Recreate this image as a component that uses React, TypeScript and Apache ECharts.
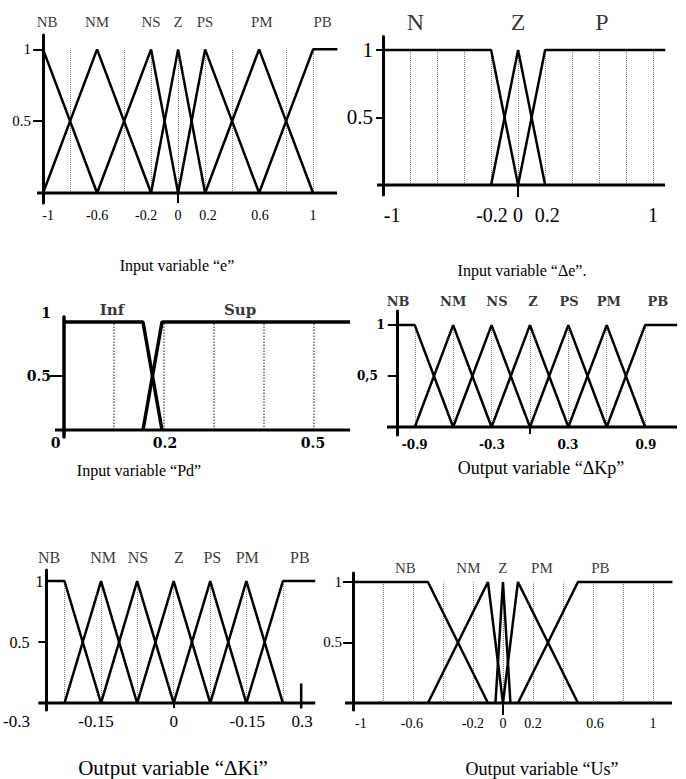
import React, { useEffect, useRef } from "react";
import * as echarts from "echarts";

const TIMES = "Liberation Serif, Times New Roman, serif";
const BOOK = "DejaVu Serif, serif";

// ---------- Panel 1: Input variable "e"
const eNames = ["NB", "NM", "NS", "Z", "PS", "PM", "PB"];
const eCurves = [
  [[-1, 1], [-0.6, 0]],
  [[-1, 0], [-0.6, 1], [-0.2, 0]],
  [[-0.6, 0], [-0.2, 1], [0, 0]],
  [[-0.2, 0], [0, 1], [0.2, 0]],
  [[0, 0], [0.2, 1], [0.6, 0]],
  [[0.2, 0], [0.6, 1], [1, 0]],
  [[0.6, 0], [1, 1], [1.18, 1]],
];
const eNameAt = [-0.97, -0.6, -0.2, 0, 0.2, 0.62, 1.07];
const eGuides = [-0.8, -0.4, -0.2, 0, 0.2, 0.4, 0.8, 1];
const eTickText = ["-1", "-0.6", "-0.2", "0", "0.2", "0.6", "1"];
const eTickAt = [-0.963, -0.6, -0.237, 0, 0.222, 0.607, 1];

// ---------- Panel 2: Input variable "Δe"
const deNames = ["N", "Z", "P"];
const deCurves = [
  [[-1, 1], [-0.2, 1], [0, 0]],
  [[-0.2, 0], [0, 1], [0.2, 0]],
  [[0, 0], [0.2, 1], [1.09, 1]],
];
const deNameAt = [-0.76, 0, 0.62];
const deGuides = [-0.8, -0.6, -0.4, -0.2, 0, 0.2, 0.4, 0.6, 0.8, 1];
const deTickText = ["-1", "-0.2", "0", "0.2", "1"];
const deTickAt = [-0.933, -0.193, 0, 0.215, 1];

// ---------- Panel 3: Input variable "Pd"
const pdNames = ["Inf", "Sup"];
const pdCurves = [
  [[0, 1], [0.158, 1], [0.196, 0]],
  [[0.158, 0], [0.196, 1], [0.572, 1]],
];
const pdNameAt = [0.096, 0.352];
const pdGuides = [0.1, 0.2, 0.3, 0.4, 0.5];
const pdTickText = ["0", "0.2", "0.5"];
const pdTickAt = [-0.017, 0.202, 0.498];

// ---------- Panel 4: Output variable "ΔKp"
const kpNames = ["NB", "NM", "NS", "Z", "PS", "PM", "PB"];
const kpCurves = [
  [[-1.04, 1], [-0.9, 1], [-0.6, 0]],
  [[-0.9, 0], [-0.6, 1], [-0.3, 0]],
  [[-0.6, 0], [-0.3, 1], [0, 0]],
  [[-0.3, 0], [0, 1], [0.3, 0]],
  [[0, 0], [0.3, 1], [0.6, 0]],
  [[0.3, 0], [0.6, 1], [0.9, 0]],
  [[0.6, 0], [0.9, 1], [1.15, 1]],
];
const kpNameAt = [-1.03, -0.6, -0.258, 0.023, 0.305, 0.617, 1.0];
const kpGuides = [-0.9, -0.6, -0.3, 0, 0.3, 0.6, 0.9];
const kpTickText = ["-0.9", "-0.3", "0.3", "0.9"];
const kpTickAt = [-0.9, -0.297, 0.297, 0.906];

// ---------- Panel 5: Output variable "ΔKi"
const kiNames = ["NB", "NM", "NS", "Z", "PS", "PM", "PB"];
const kiCurves = [
  [[-0.3, 1], [-0.257, 1], [-0.171, 0]],
  [[-0.257, 0], [-0.171, 1], [-0.086, 0]],
  [[-0.171, 0], [-0.086, 1], [0, 0]],
  [[-0.086, 0], [0, 1], [0.086, 0]],
  [[0, 0], [0.086, 1], [0.171, 0]],
  [[0.086, 0], [0.171, 1], [0.257, 0]],
  [[0.171, 0], [0.257, 1], [0.333, 1]],
];
const kiNameAt = [-0.293, -0.166, -0.084, 0.012, 0.091, 0.173, 0.297];
const kiGuides = [-0.257, -0.171, -0.086, 0, 0.086, 0.171, 0.257];
const kiTickText = ["-0.3", "-0.15", "0", "-0.15", "0.3"];
const kiTickAt = [-0.37, -0.183, 0, 0.173, 0.302];
const kiStrayTick = [[0.3, -0.045], [0.3, 0.16]];

// ---------- Panel 6: Output variable "Us"
const usNames = ["NB", "NM", "Z", "PM", "PB"];
const usCurves = [
  [[-1, 1], [-0.5, 1], [-0.1, 0]],
  [[-0.5, 0], [-0.1, 1], [0, 0]],
  [[-0.05, 0], [0, 1], [0.05, 0]],
  [[0, 0], [0.1, 1], [0.5, 0]],
  [[0.1, 0], [0.5, 1], [1.13, 1]],
];
const usNameAt = [-0.65, -0.23, 0, 0.26, 0.65];
const usGuides = [-0.8, -0.6, -0.4, -0.2, 0, 0.2, 0.4, 0.6, 0.8, 1];
const usTickText = ["-1", "-0.6", "-0.2", "0", "0.2", "0.6", "1"];
const usTickAt = [-0.947, -0.607, -0.2, 0, 0.2, 0.613, 1.0];

const yLevels = [0.5, 1];
const yTextDot = ["0.5", "1"];
const yTextComma = ["0,5", "1"];

type Font = { family: string; size: number; weight: string };
type Panel = {
  names: string[];
  curves: number[][][];
  nameAt: number[];
  nameY: number;
  guides: number[];
  xText: string[];
  xAt: number[];
  yText: string[];
  extra?: number[][];
  caption: string;
  L: {
    left: number; top: number; width: number; height: number;
    xmin: number; xmax: number; ymin: number; ymax: number; x0: number;
    xLine: [number, number];
    lw: number; axisW: number; yAxisW: number;
    nameFont: Font; xFont: Font; yFont: Font;
    xMargin: number; yMargin: number;
    xTicks: number[]; xTickLen: number; yTicks: number[]; yTickLen: number;
    yPad: number[][];
    guideColor: string; guideW: number;
    capX: number; capY: number; capSize: number;
  };
};

const T = (size: number): Font => ({ family: TIMES, size, weight: "normal" });
const B = (size: number): Font => ({ family: BOOK, size, weight: "bold" });
const NOPAD = [[0, 0, 0, 0], [0, 0, 0, 0]];

const panels: Panel[] = [
  {
    names: eNames, curves: eCurves, nameAt: eNameAt, nameY: 1.19, guides: eGuides,
    xText: eTickText, xAt: eTickAt, yText: yTextDot, caption: "Input variable \u201ce\u201d",
    L: {
      left: 37, top: 35, width: 300, height: 168, xmin: -1.045, xmax: 1.177, ymin: -0.07, ymax: 1.1, x0: -1,
      xLine: [-1.045, 1.177], lw: 2.5, axisW: 3, yAxisW: 3,
      nameFont: T(15), xFont: T(14), yFont: T(15), xMargin: 5, yMargin: 12,
      xTicks: [0], xTickLen: 10, yTicks: [0.5, 1], yTickLen: 10, yPad: NOPAD,
      guideColor: "#777", guideW: 1, capX: 177, capY: 265, capSize: 16,
    },
  },
  {
    names: deNames, curves: deCurves, nameAt: deNameAt, nameY: 1.207, guides: deGuides,
    xText: deTickText, xAt: deTickAt, yText: yTextDot, caption: "Input variable \u201c\u0394e\u201d.",
    L: {
      left: 377, top: 36.5, width: 288, height: 158.6, xmin: -1.045, xmax: 1.088, ymin: -0.075, ymax: 1.1, x0: -1,
      xLine: [-1.045, 1.088], lw: 2.5, axisW: 3, yAxisW: 3,
      nameFont: T(24), xFont: T(20), yFont: T(21), xMargin: 10, yMargin: 10,
      xTicks: [0], xTickLen: 12, yTicks: [0.5, 1], yTickLen: 7, yPad: NOPAD,
      guideColor: "#777", guideW: 1, capX: 522, capY: 270, capSize: 16,
    },
  },
  {
    names: pdNames, curves: pdCurves, nameAt: pdNameAt, nameY: 1.11, guides: pdGuides,
    xText: pdTickText, xAt: pdTickAt, yText: yTextDot, caption: "Input variable \u201cPd\u201d",
    L: {
      left: 55, top: 317, width: 295, height: 120, xmin: -0.018, xmax: 0.572, ymin: -0.065, ymax: 1.046, x0: 0,
      xLine: [-0.018, 0.572], lw: 3.5, axisW: 3, yAxisW: 3.5,
      nameFont: B(15), xFont: B(14), yFont: B(14), xMargin: -1, yMargin: 13,
      xTicks: [], xTickLen: 0, yTicks: [0.5], yTickLen: 14, yPad: [[0, 0, 0, 0], [0, 0, 18, 0]],
      guideColor: "#666", guideW: 1.5, capX: 139, capY: 470, capSize: 16,
    },
  },
  {
    names: kpNames, curves: kpCurves, nameAt: kpNameAt, nameY: 1.235, guides: kpGuides,
    xText: kpTickText, xAt: kpTickAt, yText: yTextComma, caption: "Output variable \u201c\u0394Kp\u201d",
    L: {
      left: 387, top: 311, width: 290, height: 124, xmin: -1.117, xmax: 1.149, ymin: -0.078, ymax: 1.138, x0: -1.04,
      xLine: [-1.117, 1.149], lw: 2.5, axisW: 3, yAxisW: 3,
      nameFont: B(13), xFont: B(12), yFont: B(12), xMargin: 4, yMargin: 12,
      xTicks: [0], xTickLen: 7, yTicks: [0.5, 1], yTickLen: 9, yPad: [[0, 7, 0, 0], [0, 0, 0, 0]],
      guideColor: "#888", guideW: 1, capX: 541, capY: 468, capSize: 18,
    },
  },
  {
    names: kiNames, curves: kiCurves, nameAt: kiNameAt, nameY: 1.19, guides: kiGuides,
    xText: kiTickText, xAt: kiTickAt, yText: yTextDot, extra: kiStrayTick, caption: "Output variable \u201c\u0394Ki\u201d",
    L: {
      left: 6.5, top: 570, width: 308.7, height: 140, xmin: -0.39, xmax: 0.333, ymin: -0.057, ymax: 1.0905, x0: -0.3,
      xLine: [-0.3185, 0.333], lw: 2.5, axisW: 3, yAxisW: 3,
      nameFont: T(16), xFont: T(17), yFont: T(16), xMargin: 3, yMargin: 3,
      xTicks: [0], xTickLen: 5, yTicks: [0.5], yTickLen: 8, yPad: [[0, 14, 0, 0], [0, 0, 0, 0]],
      guideColor: "#888", guideW: 1, capX: 173, capY: 768, capSize: 21,
    },
  },
  {
    names: usNames, curves: usCurves, nameAt: usNameAt, nameY: 1.115, guides: usGuides,
    xText: usTickText, xAt: usTickAt, yText: yTextDot, caption: "Output variable \u201cUs\u201d",
    L: {
      left: 345, top: 573, width: 327, height: 137, xmin: -1.053, xmax: 1.127, ymin: -0.058, ymax: 1.074, x0: -1,
      xLine: [-1.053, 1.127], lw: 2.5, axisW: 3, yAxisW: 3,
      nameFont: T(15), xFont: T(14), yFont: T(15), xMargin: 6, yMargin: 11,
      xTicks: [0], xTickLen: 12, yTicks: [0.5, 1], yTickLen: 10, yPad: NOPAD,
      guideColor: "#777", guideW: 1, capX: 542, capY: 769, capSize: 18,
    },
  },
];

function findIdx(arr: number[], v: number) {
  return arr.findIndex((a) => Math.abs(a - v) < 1e-9);
}

function buildOption() {
  const grid: any[] = [];
  const xAxis: any[] = [];
  const yAxis: any[] = [];
  const series: any[] = [];
  const graphic: any[] = [];
  panels.forEach((p, i) => {
    const L = p.L;
    grid.push({ left: L.left, top: L.top, width: L.width, height: L.height, containLabel: false });
    xAxis.push({
      type: "value", gridIndex: i, min: L.xmin, max: L.xmax,
      axisLine: { show: false, onZero: true },
      axisTick: {
        show: L.xTicks.length > 0, customValues: L.xTicks.length ? L.xTicks : undefined,
        length: L.xTickLen, lineStyle: { color: "#000", width: 2 },
      },
      axisLabel: {
        show: true, customValues: p.xAt, margin: L.xMargin, color: "#000",
        fontFamily: L.xFont.family, fontSize: L.xFont.size, fontWeight: L.xFont.weight,
        formatter: (v: number) => { const k = findIdx(p.xAt, v); return k < 0 ? "" : p.xText[k]; },
      },
      splitLine: { show: false },
    });
    const rich: any = {};
    p.yText.forEach((_, k) => {
      rich["y" + k] = {
        color: "#000", fontFamily: L.yFont.family, fontSize: L.yFont.size, fontWeight: L.yFont.weight,
        padding: L.yPad[k],
      };
    });
    yAxis.push({
      type: "value", gridIndex: i, min: L.ymin, max: L.ymax,
      offset: -((L.x0 - L.xmin) / (L.xmax - L.xmin)) * L.width,
      axisLine: { show: true, onZero: false, lineStyle: { color: "#000", width: L.yAxisW } },
      axisTick: { show: true, customValues: L.yTicks, length: L.yTickLen, lineStyle: { color: "#000", width: 2 } },
      axisLabel: {
        show: true, customValues: yLevels, margin: L.yMargin, color: "#000",
        fontFamily: L.yFont.family, fontSize: L.yFont.size, fontWeight: L.yFont.weight,
        formatter: (v: number) => { const k = findIdx(yLevels, v); return k < 0 ? "" : `{y${k}|${p.yText[k]}}`; },
        rich,
      },
      splitLine: { show: false },
    });
    // dotted guides
    series.push({
      type: "line", xAxisIndex: i, yAxisIndex: i, data: [], silent: true, symbol: "none",
      markLine: {
        silent: true, symbol: ["none", "none"], z: 1, label: { show: false },
        lineStyle: { type: "dotted", color: L.guideColor, width: L.guideW },
        emphasis: { disabled: true },
        data: p.guides.map((g) => [{ coord: [g, 0] }, { coord: [g, 1] }]),
      },
    });
    // x axis line
    series.push({
      type: "line", xAxisIndex: i, yAxisIndex: i, silent: true, symbol: "none", z: 4,
      data: [[L.xLine[0], 0], [L.xLine[1], 0]],
      lineStyle: { color: "#000", width: L.axisW },
    });
    // membership functions
    p.curves.forEach((c, k) => {
      series.push({
        type: "line", name: p.names[k], xAxisIndex: i, yAxisIndex: i, silent: true, symbol: "none", z: 3,
        data: c, lineStyle: { color: "#000", width: L.lw }, emphasis: { disabled: true },
      });
    });
    if (p.extra) {
      series.push({
        type: "line", xAxisIndex: i, yAxisIndex: i, silent: true, symbol: "none", z: 4,
        data: p.extra, lineStyle: { color: "#000", width: 2.5 },
      });
    }
    // membership names
    series.push({
      type: "scatter", xAxisIndex: i, yAxisIndex: i, silent: true, clip: false, symbolSize: 0,
      itemStyle: { color: "transparent" },
      data: p.nameAt.map((x, k) => ({ value: [x, p.nameY], name: p.names[k] })),
      label: {
        show: true, position: "inside", formatter: "{b}", color: "#000",
        fontFamily: L.nameFont.family, fontSize: L.nameFont.size, fontWeight: L.nameFont.weight,
      },
      emphasis: { disabled: true },
    });
    graphic.push({
      type: "text", x: L.capX, y: L.capY, silent: true,
      style: {
        text: p.caption, fill: "#000", fontSize: L.capSize, fontFamily: TIMES,
        align: "center", verticalAlign: "middle",
      },
    });
  });
  return {
    animation: false,
    backgroundColor: "#fff",
    textStyle: { fontFamily: TIMES },
    grid, xAxis, yAxis, series, graphic,
  };
}

export default function App() {
  const ref = useRef<HTMLDivElement>(null);
  useEffect(() => {
    if (!ref.current) return;
    const chart = echarts.init(ref.current, undefined, { renderer: "svg" });
    chart.setOption(buildOption() as any);
    return () => chart.dispose();
  }, []);
  return (
    <div
      ref={ref}
      style={{ position: "absolute", left: 0, top: 0, width: 686, height: 779, background: "#fff" }}
    />
  );
}
